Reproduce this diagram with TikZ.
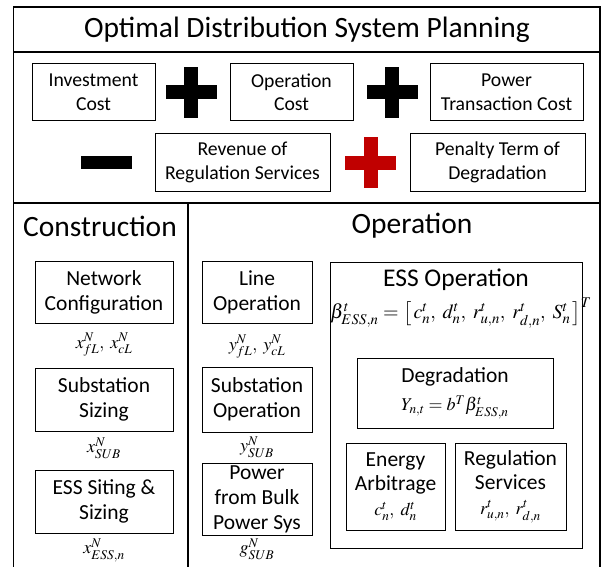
\documentclass[tikz,border=0pt]{standalone}
\usepackage{mathptmx}
\usepackage[no-math]{fontspec}
\setmainfont{Carlito}
\definecolor{plusred}{HTML}{C00000}
\begin{document}
\begin{tikzpicture}[x=1pt,y=-1pt,
  frame/.style={line width=1.2pt},
  cost/.style={draw, line width=1pt, inner sep=0pt, align=center,
    font=\fontsize{19.7}{23.5}\selectfont},
  part/.style={draw, line width=1pt, inner sep=0pt, align=center,
    font=\fontsize{21.5}{25}\selectfont},
  heading/.style={inner sep=0pt, font=\fontsize{29.5}{34}\selectfont},
  var/.style={inner sep=0pt, font=\fontsize{18}{21}\selectfont},
  plussign/.pic={
    \fill (-25.5,-7) rectangle (25.5,7);
    \fill (-7,-25.5) rectangle (7,25.5);
  },
  minussign/.pic={
    \fill (-25.5,-6.5) rectangle (25.5,6.5);
  }
]
\useasboundingbox (0,0) rectangle (602,567);

% outer frame and section dividers
\coordinate (tl) at (13.5,7);
\coordinate (tr) at (600,7);
\coordinate (bl) at (13.5,567);
\coordinate (br) at (600,567);
\draw[frame] (bl) -- (tl) -- (tr) -- (br);
\draw[frame] (13.5,52) -- (600,52);
\draw[frame] (13.5,203) -- (600,203);
\draw[frame] (188,203) -- (188,567);

% objective
\node[heading] (title) at (307,30) {Optimal Distribution System Planning};

\node[cost, minimum width=123, minimum height=57] (inv) at (93.5,92.5) {Investment\\Cost};
\pic[black] at (191,92.5) {plussign};
\node[cost, minimum width=123, minimum height=57] (opc) at (291.5,92.5) {Operation\\Cost};
\pic[black] at (392,92.5) {plussign};
\node[cost, minimum width=153, minimum height=57] (ptc) at (506.5,92.5) {Power\\Transaction Cost};

\pic[black] at (106.5,162.5) {minussign};
\node[cost, minimum width=175, minimum height=57] (rev) at (242.5,162.5) {Revenue of\\Regulation Services};
\pic[plusred] at (370.5,162.5) {plussign};
\node[cost, minimum width=175, minimum height=57] (pen) at (497.5,162.5) {Penalty Term of\\Degradation};

% construction decisions
\node[heading] (cons) at (100,226) {Construction};
\node[part, minimum width=138, minimum height=62] (net) at (104,292) {Network\\Configuration};
\node[var] (xnet) at (104,345) {$x^N_{fL},\ x^N_{cL}$};
\node[part, minimum width=138, minimum height=63] (sub) at (104,399.5) {Substation\\Sizing};
\node[var] (xsub) at (104,448) {$x^N_{SUB}$};
\node[part, minimum width=138, minimum height=63] (ess) at (104,501.5) {ESS Siting \&\\Sizing};
\node[var] (xess) at (104,550) {$x^N_{ESS,n}$};

% operation decisions
\node[heading] (oper) at (412,226) {Operation};
\node[part, minimum width=110, minimum height=62] (line) at (257,292) {Line\\Operation};
\node[var] (yline) at (257,347) {$y^N_{fL},\ y^N_{cL}$};
\node[part, minimum width=110, minimum height=65] (subop) at (257,399.5) {Substation\\Operation};
\node[var] (ysub) at (257,447) {$y^N_{SUB}$};
\node[part, minimum width=110, minimum height=72] (bulk) at (257,499) {Power\\from Bulk\\Power Sys};
\node[var] (gsub) at (257,549) {$g^N_{SUB}$};

% ESS operation
\node[draw, line width=1pt, minimum width=252, minimum height=286, inner sep=0pt] (essop) at (456,405) {};
\node[inner sep=0pt, font=\fontsize{25.5}{30}\selectfont] (esstitle) at (456,280) {ESS Operation};
\node[var, font=\fontsize{20}{23}\selectfont] (beta) at (461,313) {$\beta^t_{ESS,n}=\bigl[\,c^t_n,\ d^t_n,\ r^t_{u,n},\ r^t_{d,n},\ S^t_n\,\bigr]^T$};
\node[part, minimum width=196, minimum height=70] (deg) at (455,393) {};
\node[inner sep=0pt, font=\fontsize{21.5}{25}\selectfont] (degt) at (455,377) {Degradation};
\node[var, font=\fontsize{18}{22}\selectfont] (degeq) at (455,407) {$Y_{n,t}=b^T\beta^t_{ESS,n}$};
\node[part, minimum width=99, minimum height=87,
  font=\fontsize{21.5}{24}\selectfont] (arb) at (395.5,486.5) {Energy\\Arbitrage\\[1pt]{\fontsize{18}{21}\selectfont$c^t_n,\ d^t_n$}};
\node[part, minimum width=111, minimum height=87,
  font=\fontsize{21.5}{24}\selectfont] (reg) at (510.5,486.5) {Regulation\\Services\\[1pt]{\fontsize{18}{21}\selectfont$r^t_{u,n},\ r^t_{d,n}$}};
\end{tikzpicture}
\end{document}
